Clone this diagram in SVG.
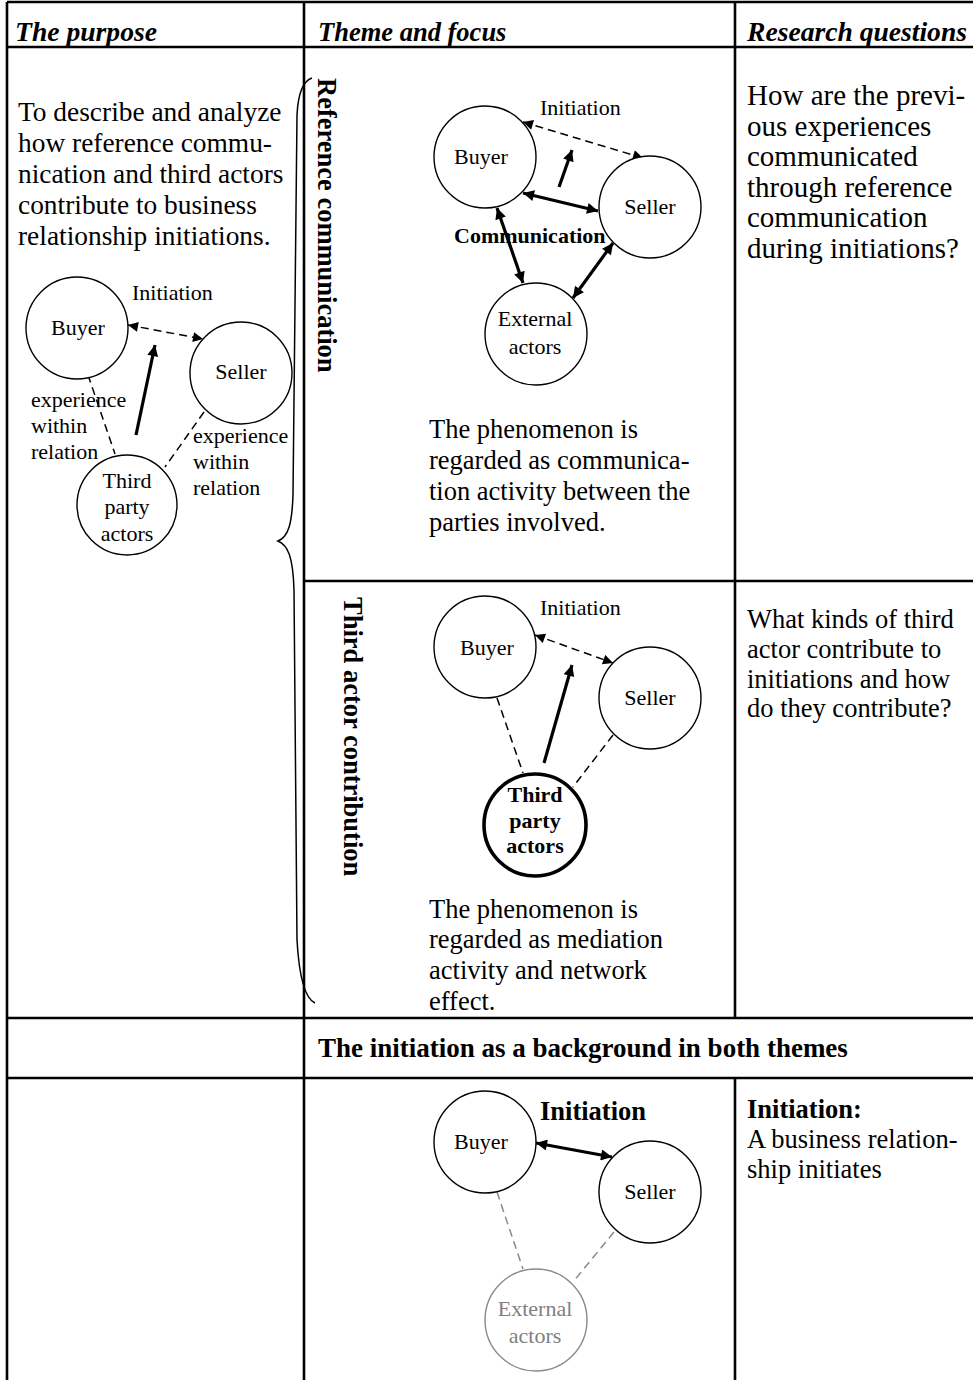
<svg xmlns="http://www.w3.org/2000/svg" width="973" height="1380" viewBox="0 0 973 1380">
  <defs>
    <!-- arrowhead for thin dashed connectors -->
    <marker id="ah" viewBox="0 0 10 10" refX="10" refY="5" markerWidth="12" markerHeight="10" markerUnits="userSpaceOnUse" orient="auto-start-reverse">
      <path d="M0,0 L10,5 L0,10 z" fill="#000"/>
    </marker>
    <!-- arrowhead for thick connectors -->
    <marker id="ahT" viewBox="0 0 10 10" refX="10" refY="5" markerWidth="13" markerHeight="11" markerUnits="userSpaceOnUse" orient="auto-start-reverse">
      <path d="M0,0 L10,5 L0,10 z" fill="#000"/>
    </marker>
  </defs>
  <style>
    .grid{stroke:#000;stroke-width:2.6;fill:none}
    .node{fill:#fff;stroke:#000;stroke-width:1.4}
    .node.bold{stroke-width:3.6}
    .node.gray{stroke:#8a8a8a}
    .lbl{font-family:"Liberation Serif","Times New Roman",serif;font-size:22px;text-anchor:middle;fill:#000}
    .lblL{font-family:"Liberation Serif","Times New Roman",serif;font-size:22px;fill:#000}
    .lbl.b{font-weight:bold}
    .lbl.gray{fill:#808080}
    .body{font-family:"Liberation Serif","Times New Roman",serif;font-size:26.5px;fill:#000}
    .body.md{font-size:27.4px}
    .body.lg{font-size:29px}
    .head{font-family:"Liberation Serif","Times New Roman",serif;font-size:26.5px;font-weight:bold;font-style:italic;fill:#000}
    .bold{font-weight:bold}
    .vert{font-family:"Liberation Serif","Times New Roman",serif;font-size:26.5px;font-weight:bold;fill:#000}
    .dash{stroke:#000;stroke-width:1.5;stroke-dasharray:8 5;fill:none}
    .dash.gray{stroke:#8a8a8a}
    .thick{stroke:#000;stroke-width:3.2;fill:none}
    .brace{stroke:#000;stroke-width:1.5;fill:none}
  </style>

  <rect width="973" height="1380" fill="#fff"/>

  <!-- table rules -->
  <g id="table" class="grid">
    <line x1="7" y1="2" x2="973" y2="2"/>
    <line x1="7" y1="47" x2="973" y2="47"/>
    <line x1="304" y1="581" x2="973" y2="581"/>
    <line x1="7" y1="1018" x2="973" y2="1018"/>
    <line x1="7" y1="1078" x2="973" y2="1078"/>
    <line x1="7" y1="2" x2="7" y2="1380"/>
    <line x1="304" y1="2" x2="304" y2="1380"/>
    <line x1="735" y1="2" x2="735" y2="1018"/>
    <line x1="735" y1="1078" x2="735" y2="1380"/>
  </g>

  <!-- column headings -->
  <g id="headings">
    <text class="head" x="15" y="41" textLength="142" lengthAdjust="spacingAndGlyphs">The purpose</text>
    <text class="head" x="318" y="41">Theme and focus</text>
    <text class="head" x="747" y="41" textLength="220" lengthAdjust="spacingAndGlyphs">Research questions</text>
  </g>

  <!-- purpose text -->
  <g id="purpose-text">
    <text class="body md" x="18" y="121">To describe and analyze</text>
    <text class="body md" x="18" y="152">how reference commu-</text>
    <text class="body md" x="18" y="183">nication and third actors</text>
    <text class="body md" x="18" y="214">contribute to business</text>
    <text class="body md" x="18" y="245">relationship initiations.</text>
  </g>

  <!-- brace grouping both themes -->
  <path id="brace" class="brace" d="M312,78 C303,81 298,95 297,115 L293,495 C292,525 288,537 278,541 C288,545 293,557 294,590 L297,940 C299,975 304,998 315,1003"/>

  <!-- vertical theme titles -->
  <text id="theme-reference" class="vert" transform="translate(318,78) rotate(90)">Reference communication</text>
  <text id="theme-third" class="vert" transform="translate(344,597) rotate(90)">Third actor contribution</text>

  <!-- connectors -->
  <g id="connectors">
    <!-- purpose diagram -->
    <line class="dash" x1="128" y1="325" x2="203" y2="339" marker-start="url(#ah)" marker-end="url(#ah)"/>
    <line class="thick" x1="136" y1="435" x2="155" y2="345" marker-end="url(#ahT)"/>
    <line class="dash" x1="88" y1="375" x2="115" y2="454"/>
    <line class="dash" x1="204" y1="412" x2="165" y2="467"/>
    <!-- reference communication diagram -->
    <line class="dash" x1="523" y1="122" x2="643" y2="158" marker-start="url(#ah)" marker-end="url(#ah)"/>
    <line class="thick" x1="559" y1="187" x2="572" y2="150" marker-end="url(#ahT)"/>
    <line class="thick" x1="523" y1="193" x2="598" y2="211" marker-start="url(#ahT)" marker-end="url(#ahT)"/>
    <line class="thick" x1="497" y1="208" x2="523" y2="283" marker-start="url(#ahT)" marker-end="url(#ahT)"/>
    <line class="thick" x1="613" y1="243" x2="573" y2="298" marker-start="url(#ahT)" marker-end="url(#ahT)"/>
    <!-- third actor diagram -->
    <line class="dash" x1="535" y1="635" x2="613" y2="663" marker-start="url(#ah)" marker-end="url(#ah)"/>
    <line class="thick" x1="544" y1="763" x2="572" y2="665" marker-end="url(#ahT)"/>
    <line class="dash" x1="497" y1="698" x2="523" y2="773"/>
    <line class="dash" x1="613" y1="735" x2="573" y2="787"/>
    <!-- initiation diagram -->
    <line class="thick" x1="536" y1="1143" x2="612" y2="1157" marker-start="url(#ahT)" marker-end="url(#ahT)"/>
    <line class="dash gray" x1="497" y1="1192" x2="523" y2="1269"/>
    <line class="dash gray" x1="614" y1="1232" x2="573" y2="1282"/>
  </g>

  <!-- purpose diagram nodes -->
  <g id="p-buyer"><circle class="node" cx="77" cy="328" r="51"/><text class="lbl" x="78" y="335">Buyer</text></g>
  <g id="p-seller"><circle class="node" cx="241" cy="373" r="51"/><text class="lbl" x="241" y="379">Seller</text></g>
  <g id="p-third"><circle class="node" cx="127" cy="505" r="50"/>
    <text class="lbl" x="127" y="488">Third</text><text class="lbl" x="127" y="514">party</text><text class="lbl" x="127" y="541">actors</text></g>
  <g id="p-labels">
    <text class="lblL" x="132" y="300">Initiation</text>
    <text class="lblL" x="31" y="407">experience</text>
    <text class="lblL" x="31" y="433">within</text>
    <text class="lblL" x="31" y="459">relation</text>
    <text class="lblL" x="193" y="443">experience</text>
    <text class="lblL" x="193" y="469">within</text>
    <text class="lblL" x="193" y="495">relation</text>
  </g>

  <!-- reference communication nodes -->
  <g id="r-buyer"><circle class="node" cx="485" cy="157" r="51"/><text class="lbl" x="481" y="164">Buyer</text></g>
  <g id="r-seller"><circle class="node" cx="650" cy="207" r="51"/><text class="lbl" x="650" y="214">Seller</text></g>
  <g id="r-external"><circle class="node" cx="536" cy="334" r="51"/>
    <text class="lbl" x="535" y="326">External</text><text class="lbl" x="535" y="354">actors</text></g>
  <g id="r-labels">
    <text class="lblL" x="540" y="115">Initiation</text>
    <text class="lblL bold" x="454" y="243">Communication</text>
  </g>
  <g id="r-text">
    <text class="body" x="429" y="438">The phenomenon is</text>
    <text class="body" x="429" y="469">regarded as communica-</text>
    <text class="body" x="429" y="500">tion activity between the</text>
    <text class="body" x="429" y="531">parties involved.</text>
  </g>
  <g id="r-question">
    <text class="body lg" x="747" y="105">How are the previ-</text>
    <text class="body lg" x="747" y="135.5">ous experiences</text>
    <text class="body lg" x="747" y="166">communicated</text>
    <text class="body lg" x="747" y="196.5">through reference</text>
    <text class="body lg" x="747" y="227">communication</text>
    <text class="body lg" x="747" y="257.5">during initiations?</text>
  </g>

  <!-- third actor contribution nodes -->
  <g id="t-buyer"><circle class="node" cx="485" cy="647" r="51"/><text class="lbl" x="487" y="655">Buyer</text></g>
  <g id="t-seller"><circle class="node" cx="650" cy="698" r="51"/><text class="lbl" x="650" y="705">Seller</text></g>
  <g id="t-third"><circle class="node bold" cx="535" cy="825" r="51"/>
    <text class="lbl b" x="535" y="802">Third</text><text class="lbl b" x="535" y="828">party</text><text class="lbl b" x="535" y="853">actors</text></g>
  <text class="lblL" x="540" y="615">Initiation</text>
  <g id="t-text">
    <text class="body" x="429" y="918">The phenomenon is</text>
    <text class="body" x="429" y="948">regarded as mediation</text>
    <text class="body" x="429" y="979">activity and network</text>
    <text class="body" x="429" y="1010">effect.</text>
  </g>
  <g id="t-question">
    <text class="body" x="747" y="628">What kinds of third</text>
    <text class="body" x="747" y="658">actor contribute to</text>
    <text class="body" x="747" y="688">initiations and how</text>
    <text class="body" x="747" y="717">do they contribute?</text>
  </g>

  <!-- background row -->
  <text class="body bold" x="318" y="1057" style="font-size:27px">The initiation as a background in both themes</text>

  <!-- initiation nodes -->
  <g id="i-buyer"><circle class="node" cx="485" cy="1142" r="51"/><text class="lbl" x="481" y="1149">Buyer</text></g>
  <g id="i-seller"><circle class="node" cx="650" cy="1192" r="51"/><text class="lbl" x="650" y="1199">Seller</text></g>
  <g id="i-external"><circle class="node gray" cx="536" cy="1320" r="51"/>
    <text class="lbl gray" x="535" y="1316">External</text><text class="lbl gray" x="535" y="1343">actors</text></g>
  <text class="body bold" x="540" y="1120">Initiation</text>
  <g id="i-definition">
    <text class="body bold" x="747" y="1118">Initiation:</text>
    <text class="body" x="747" y="1148">A business relation-</text>
    <text class="body" x="747" y="1178">ship initiates</text>
  </g>
</svg>
